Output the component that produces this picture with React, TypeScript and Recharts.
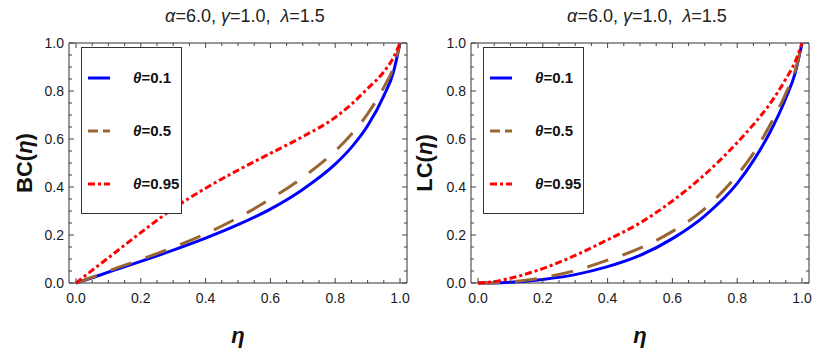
import { LineChart, Line, XAxis, YAxis, ReferenceArea, Legend } from 'recharts';

// eta grid shared by every curve
const ETA = [0, 0.05, 0.1, 0.2, 0.3, 0.4, 0.5, 0.6, 0.7, 0.8, 0.85, 0.9, 0.95, 0.98, 1.0];

// Bonferroni curve BC(eta)
const BC_THETA_01 = [0, 0.022, 0.045, 0.09, 0.137, 0.187, 0.243, 0.308, 0.39, 0.495, 0.565, 0.655, 0.78, 0.88, 1.0];
const BC_THETA_05 = [0, 0.024, 0.05, 0.098, 0.148, 0.205, 0.272, 0.35, 0.44, 0.55, 0.62, 0.705, 0.815, 0.9, 1.0];
const BC_THETA_095 = [0, 0.053, 0.105, 0.21, 0.31, 0.395, 0.47, 0.54, 0.61, 0.69, 0.745, 0.81, 0.88, 0.94, 1.0];

// Lorenz curve LC(eta)
const LC_THETA_01 = [0, 0.0005, 0.003, 0.015, 0.035, 0.068, 0.115, 0.185, 0.28, 0.415, 0.51, 0.625, 0.77, 0.88, 1.0];
const LC_THETA_05 = [0, 0.001, 0.005, 0.022, 0.052, 0.095, 0.145, 0.215, 0.31, 0.45, 0.54, 0.655, 0.79, 0.89, 1.0];
const LC_THETA_095 = [0, 0.006, 0.02, 0.06, 0.115, 0.18, 0.25, 0.342, 0.452, 0.585, 0.66, 0.745, 0.85, 0.925, 1.0];

const THETAS = ['0.1', '0.5', '0.95'];
const TICKS = [0, 0.05, 0.1, 0.15, 0.2, 0.25, 0.3, 0.35, 0.4, 0.45, 0.5, 0.55, 0.6, 0.65, 0.7, 0.75, 0.8, 0.85, 0.9, 0.95, 1.0];

const SERIES = [
  { key: 's1', theta: THETAS[0], color: '#0000ff', dash: undefined, legendDash: undefined },
  { key: 's2', theta: THETAS[1], color: '#996633', dash: '22 15', legendDash: '10 5' },
  { key: 's3', theta: THETAS[2], color: '#ff0000', dash: '7 3 3 3', legendDash: '7 3 3 3' },
];

const bcData = ETA.map((eta, i) => ({ eta, s1: BC_THETA_01[i], s2: BC_THETA_05[i], s3: BC_THETA_095[i] }));
const lcData = ETA.map((eta, i) => ({ eta, s1: LC_THETA_01[i], s2: LC_THETA_05[i], s3: LC_THETA_095[i] }));

const FONT = '"Liberation Sans", Arial, sans-serif';
const X_MIN = -0.0216;
const X_MAX = 1.0216;
const PLOT_TOP = 43;
const PLOT_BOTTOM = 283;
const X_TICK_MARGIN = 10;
const Y_TICK_MARGIN = 5;
const TICK_COLOR = '#444';

const isMajor = (v: number) => Math.round(v * 100) % 20 === 0;

function XTick(props: any) {
  const { x, y, payload } = props;
  const v = payload.value;
  const len = isMajor(v) ? 5 : 3;
  return (
    <g>
      <line x1={x} x2={x} y1={PLOT_BOTTOM} y2={PLOT_BOTTOM - len} stroke={TICK_COLOR} />
      <line x1={x} x2={x} y1={PLOT_TOP} y2={PLOT_TOP + len} stroke={TICK_COLOR} />
      {isMajor(v) && (
        <text x={x} y={y} dy="0.71em" textAnchor="middle" fontSize={14} fill="#1a1a1a" fontFamily={FONT}>
          {v.toFixed(1)}
        </text>
      )}
    </g>
  );
}

function YTick(props: any) {
  const { x, y, payload, right } = props;
  const v = payload.value;
  const len = isMajor(v) ? 5 : 3;
  const axisX = x + Y_TICK_MARGIN;
  return (
    <g>
      <line x1={axisX} x2={axisX + len} y1={y} y2={y} stroke={TICK_COLOR} />
      <line x1={right} x2={right - len} y1={y} y2={y} stroke={TICK_COLOR} />
      {isMajor(v) && (
        <text x={x} y={y} dy="0.36em" textAnchor="end" fontSize={14} fill="#1a1a1a" fontFamily={FONT}>
          {v.toFixed(1)}
        </text>
      )}
    </g>
  );
}

function LegendBox() {
  return (
    <svg width={101} height={167} style={{ display: 'block' }}>
      <rect x={0.5} y={0.5} width={100} height={166} fill="#fff" stroke="#333" />
      {SERIES.map((s, i) => {
        const cy = 31 + i * 53;
        return (
          <g key={s.key}>
            <line x1={7} x2={29} y1={cy} y2={cy} stroke={s.color} strokeWidth={3} strokeDasharray={s.legendDash} />
            <text x={52} y={cy} dy="0.36em" fontSize={15} fontWeight="bold" fill="#111" fontFamily={FONT}>
              <tspan fontStyle="italic">θ</tspan>={s.theta}
            </text>
          </g>
        );
      })}
    </svg>
  );
}

interface PanelProps {
  data: typeof bcData;
  yName: string;
  left: number;
  frameLeft: number;
  yLabelX: number;
}

function Panel({ data, yName, left, frameLeft, yLabelX }: PanelProps) {
  const frameRight = frameLeft + 338;
  const center = (frameLeft + frameRight) / 2;
  return (
    <div style={{ position: 'absolute', left, top: 0, width: 412, height: 352 }}>
      <div
        style={{
          position: 'absolute', left: frameLeft + 7, top: 6, width: 338, textAlign: 'center',
          fontFamily: FONT, fontSize: 18, color: '#222', whiteSpace: 'pre', lineHeight: '21px',
        }}
      >
        <i>α</i>=6.0, <i>γ</i>=1.0,  <i>λ</i>=1.5
      </div>
      <LineChart
        width={412}
        height={352}
        data={data}
        margin={{ top: PLOT_TOP, right: 412 - frameRight, bottom: 352 - PLOT_BOTTOM - 30, left: frameLeft - 40 }}
      >
        <XAxis
          dataKey="eta"
          type="number"
          domain={[X_MIN, X_MAX]}
          ticks={TICKS}
          interval={0}
          tickLine={false}
          axisLine={false}
          tickSize={0}
          tickMargin={X_TICK_MARGIN}
          height={30}
          tick={(p: any) => <XTick {...p} />}
          label={{
            content: () => (
              <text x={center} y={343} textAnchor="middle" fontSize={22} fontWeight="bold" fontStyle="italic" fill="#111" fontFamily={FONT}>
                η
              </text>
            ),
          }}
        />
        <YAxis
          type="number"
          domain={[0, 1]}
          ticks={TICKS}
          interval={0}
          tickLine={false}
          axisLine={false}
          tickSize={0}
          tickMargin={Y_TICK_MARGIN}
          width={40}
          tick={(p: any) => <YTick {...p} right={frameRight} />}
          label={{
            content: () => (
              <text transform={`translate(${yLabelX},163) rotate(-90)`} textAnchor="middle" fontSize={22} fontWeight="bold" fill="#111" fontFamily={FONT}>
                {yName}(<tspan fontStyle="italic">η</tspan>)
              </text>
            ),
          }}
        />
        <ReferenceArea x1={X_MIN} x2={X_MAX} y1={0} y2={1} fill="none" stroke="#333" strokeWidth={1} ifOverflow="visible" />
        {SERIES.map((s) => (
          <Line
            key={s.key}
            type="monotone"
            dataKey={s.key}
            stroke={s.color}
            strokeWidth={3}
            strokeDasharray={s.dash}
            dot={false}
            activeDot={false}
            isAnimationActive={false}
          />
        ))}
        <Legend
          layout="horizontal"
          verticalAlign="middle"
          align="center"
          width={101}
          height={167}
          wrapperStyle={{ left: frameLeft + 12, top: 47, width: 101, height: 167 }}
          content={() => <LegendBox />}
        />
      </LineChart>
    </div>
  );
}

export default function App() {
  return (
    <div style={{ position: 'absolute', left: 0, top: 0, width: 824, height: 352, background: '#fff', overflow: 'hidden' }}>
      <Panel data={bcData} yName="BC" left={0} frameLeft={69} yLabelX={31.5} />
      <Panel data={lcData} yName="LC" left={412} frameLeft={59} yLabelX={20} />
    </div>
  );
}
